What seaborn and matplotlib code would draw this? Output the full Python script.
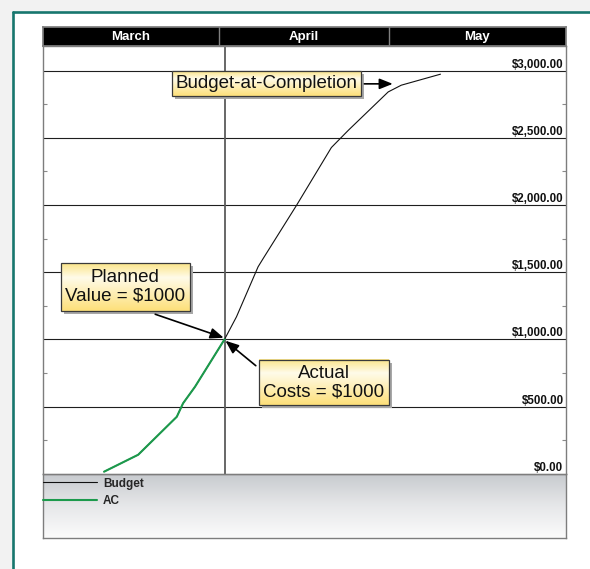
import matplotlib
matplotlib.use("Agg")
import numpy as np
import pandas as pd
import matplotlib.pyplot as plt
import seaborn as sns
from matplotlib import transforms
from matplotlib.patches import Rectangle
from matplotlib.lines import Line2D
from matplotlib.colors import LinearSegmentedColormap

# Time axis: days counted from March 1, running to June 1
months = ["March", "April", "May"]
month_starts = [0, 31, 61]
x_end = 92
status_day = 32

# Actual costs to date
ac_days = [10.8, 16.8, 23.6, 24.7, 26.8, 32.0]
ac_values = [15, 141, 424, 524, 647, 1000]

# Cumulative budget (planned value) curve
budget_days = [10.8, 16.8, 23.6, 24.7, 26.8, 32.0, 34.1, 37.9, 38.8,
               44.7, 50.8, 53.8, 60.8, 63.1, 70.0]
budget_values = [15, 141, 424, 524, 647, 1000, 1168, 1540, 1602,
                 2000, 2428, 2557, 2842, 2892, 2974]

y_ticks = [0, 500, 1000, 1500, 2000, 2500, 3000]
y_tick_labels = ["$0.00", "$500.00", "$1,000.00", "$1,500.00",
                 "$2,000.00", "$2,500.00", "$3,000.00"]
y_top = 3186

series_names = ["Budget", "AC"]
series_colors = {"Budget": "#111111", "AC": "#1c9a4c"}
series_widths = {"Budget": 0.8, "AC": 1.5}

df = pd.concat([
    pd.DataFrame({"day": budget_days, "cost": budget_values, "series": "Budget"}),
    pd.DataFrame({"day": ac_days, "cost": ac_values, "series": "AC"}),
], ignore_index=True)

sns.set_theme(style="white")
plt.rcParams["font.family"] = ["Liberation Sans", "DejaVu Sans"]

W, H = 590, 569
fig = plt.figure(figsize=(W / 100, H / 100), dpi=100)
fig.patch.set_facecolor("#f2f2f2")


def frac(x0, y0, x1, y1):
    return [x0 / W, 1 - y1 / H, (x1 - x0) / W, (y1 - y0) / H]


# page panel with teal rule on top and left
fig.add_artist(Rectangle((14 / W, 0), 1 - 14 / W, 1 - 12 / H,
                         transform=fig.transFigure, facecolor="white",
                         edgecolor="none", zorder=0))
teal = "#17766e"
fig.add_artist(Line2D([13 / W, 1], [1 - 12 / H, 1 - 12 / H],
                      transform=fig.transFigure, color=teal, lw=1.9))
fig.add_artist(Line2D([13 / W, 13 / W], [0, 1 - 12 / H],
                      transform=fig.transFigure, color=teal, lw=1.9))

# legend band with grey gradient
leg_ax = fig.add_axes(frac(42.7, 473.7, 565.5, 538))
band = np.linspace(0, 1, 64).reshape(-1, 1)
band_cmap = LinearSegmentedColormap.from_list("band", ["#c7cace", "#e6e7e9", "#fbfbfb"])
leg_ax.imshow(band, aspect="auto", cmap=band_cmap, extent=(0, 1, 0, 1), origin="upper")
leg_ax.set_xlim(0, 1)
leg_ax.set_ylim(0, 1)
leg_ax.set_xticks([])
leg_ax.set_yticks([])
for s in leg_ax.spines.values():
    s.set_color("#7d7d7d")
    s.set_linewidth(1.0)
leg_ax.set_zorder(1)

# month header
hdr = fig.add_axes(frac(42.7, 27, 565.5, 45.7))
hdr.set_facecolor("black")
hdr.set_xlim(0, x_end)
hdr.set_ylim(0, 1)
hdr.set_xticks([])
hdr.set_yticks([])
for s in hdr.spines.values():
    s.set_color("#7d7d7d")
bounds = month_starts + [x_end]
for i, name in enumerate(months):
    if i > 0:
        hdr.axvline(month_starts[i], color="#808080", lw=1.0)
    hdr.text((bounds[i] + bounds[i + 1]) / 2, 0.45, name, color="white",
             fontsize=9.5, fontweight="bold", ha="center", va="center")

# main plot
ax = fig.add_axes(frac(42.7, 45.7, 565.5, 473.7))
ax.set_zorder(2)
ax.set_facecolor("white")
sns.lineplot(data=df, x="day", y="cost", hue="series", hue_order=series_names,
             size="series", size_order=series_names, sizes=series_widths,
             palette=series_colors, estimator=None, sort=False, ax=ax, zorder=3)

ax.set_xlim(0, x_end)
ax.set_ylim(0, y_top)
ax.set_xlabel("")
ax.set_ylabel("")
ax.set_xticks([])
ax.set_yticks(y_ticks)
minor = [(a + b) / 2 for a, b in zip(y_ticks[:-1], y_ticks[1:])]
ax.set_yticks(minor, minor=True)
ax.tick_params(axis="y", which="major", length=0, labelleft=False, labelright=False)
ax.tick_params(axis="y", which="minor", direction="in", length=3, width=0.8,
               color="#8a8a8a", left=True, right=True)
ax.set_axisbelow(True)
ax.yaxis.grid(True, which="major", color="#1e1e1e", lw=0.8)
ax.xaxis.grid(False)
for s in ax.spines.values():
    s.set_color("#7d7d7d")
    s.set_linewidth(1.0)

ax.axvline(status_day, color="#5c5c5c", lw=1.3, zorder=2)

lab_tr = transforms.offset_copy(
    transforms.blended_transform_factory(ax.transAxes, ax.transData),
    fig=fig, x=-2, y=3, units="dots")
for v, lab in zip(y_ticks, y_tick_labels):
    ax.text(1, v, lab, transform=lab_tr, ha="right", va="baseline",
            fontsize=8.3, fontweight="bold", color="#111111", zorder=4)

# call-out boxes
box_cmap = LinearSegmentedColormap.from_list(
    "callout", [(0, "#fbe58a"), (0.3, "#fffbe9"), (1, "#fde07a")])
grad = np.linspace(0, 1, 64).reshape(-1, 1)
shadow_tr = transforms.offset_copy(ax.transData, fig=fig, x=3, y=-3, units="dots")


def callout(x0, x1, y0, y1, text):
    ax.add_patch(Rectangle((x0, y0), x1 - x0, y1 - y0, transform=shadow_tr,
                           facecolor="#a8a8a8", edgecolor="none", zorder=5))
    ax.imshow(grad, extent=(x0, x1, y0, y1), aspect="auto", cmap=box_cmap,
              origin="upper", zorder=6)
    ax.add_patch(Rectangle((x0, y0), x1 - x0, y1 - y0, fill=False,
                           edgecolor="#3a3a3a", lw=0.9, zorder=7))
    ax.text((x0 + x1) / 2, (y0 + y1) / 2, text, ha="center", va="center",
            fontsize=13.5, color="#111111", linespacing=1.12, zorder=8)


def arrow(start, tip):
    ax.annotate("", xy=tip, xytext=start, zorder=9,
                arrowprops=dict(arrowstyle="-|>,head_length=0.8,head_width=0.32",
                                mutation_scale=10, color="black", lw=1.2,
                                shrinkA=0, shrinkB=0))


callout(22.7, 56.0, 2815, 2996, "Budget-at-Completion")
arrow((56.6, 2902), (61.6, 2902))

callout(3.2, 25.9, 1214, 1567, "Planned\nValue = $1000")
arrow((19.8, 1187), (31.85, 1012))

callout(38.1, 60.9, 509, 844, "Actual\nCosts = $1000")
arrow((37.5, 804), (32.15, 990))

ax.set_xlim(0, x_end)
ax.set_ylim(0, y_top)

# legend in the grey band below the plot
sns.move_legend(ax, "upper left", bbox_to_anchor=(0, -0.009), frameon=False,
                title=None, borderpad=0, borderaxespad=0, handlelength=4.6,
                handletextpad=0.5, labelspacing=0.45,
                prop={"weight": "bold", "size": 8.5})

fig.savefig("out.png", dpi=100, facecolor=fig.get_facecolor())
